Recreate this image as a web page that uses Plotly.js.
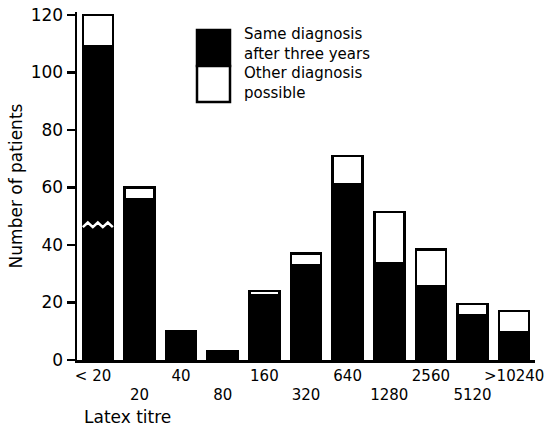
<!DOCTYPE html>
<html>
<head>
<meta charset="utf-8">
<script src="https://cdn.plot.ly/plotly-3.0.1.min.js"></script>
<style>html,body{margin:0;padding:0;background:#fff;}</style>
</head>
<body>
<div id="chart" style="width:553px;height:427px;"></div>
<script>
// Latex titre categories (tick labels)
const categories = ['< 20', '20', '40', '80', '160', '320', '640', '1280', '2560', '5120', '>10240'];
// Same diagnosis after three years (black part)
const sameDiagnosis = [109, 56, 10, 3, 22.5, 33, 61, 33.5, 25.5, 15.5, 9.5];
// Other diagnosis possible (white part, stacked on top)
const otherDiagnosis = [11, 4, 0, 0, 1.5, 4, 10, 18, 13, 4, 7.5];
// y value where the first bar is drawn broken
const breakValue = 47;
const yTicks = [0, 20, 40, 60, 80, 100, 120];
const legendLines = ['Same diagnosis', 'after three years', 'Other diagnosis', 'possible'];

const idx = categories.map((c, i) => i);
// alternate label rows (first label sits slightly left of its bar, as in the original)
const tickText = categories.map((c, i) => {
  if (i === 0) return c + '\u00a0\u00a0';
  return i % 2 === 0 ? c : '<br>' + c;
});

const FONT = 'DejaVu Sans, sans-serif';

const traces = [
  {
    type: 'bar', x: idx, y: sameDiagnosis, name: 'Same diagnosis after three years',
    marker: {color: '#000', line: {color: '#000', width: 2.5}}, showlegend: false,
    hoverinfo: 'skip'
  },
  {
    type: 'bar', x: idx, y: otherDiagnosis, name: 'Other diagnosis possible',
    marker: {color: '#fff', line: {color: '#000', width: 2.5}}, showlegend: false,
    hoverinfo: 'skip'
  }
];

// zigzag break mark on the first bar (in data coordinates)
const halfW = 0.36;
let zz = '';
const nPts = 7;
for (let k = 0; k < nPts; k++) {
  const xx = -halfW + (2 * halfW) * k / (nPts - 1);
  const yy = breakValue + (k % 2 === 0 ? -0.8 : 0.8);
  zz += (k === 0 ? 'M ' : ' L ') + xx + ',' + yy;
}

const layout = {
  width: 553, height: 427, autosize: false,
  margin: {l: 77, r: 18, t: 12, b: 67, pad: 0},
  paper_bgcolor: '#fff', plot_bgcolor: '#fff',
  barmode: 'stack', bargap: 0.28,
  font: {family: FONT, color: '#000', size: 16},
  xaxis: {
    type: 'linear', range: [-0.5, 10.5],
    tickvals: idx, ticktext: tickText, tickangle: 0,
    ticks: '', showgrid: false, zeroline: false,
    showline: true, linecolor: '#000', linewidth: 2.5,
    tickfont: {family: FONT, size: 15, color: '#000'}
  },
  yaxis: {
    range: [0, 121], tickvals: yTicks, ticktext: yTicks.map(String),
    ticks: 'outside', ticklen: 8, tickwidth: 2.5, tickcolor: '#000',
    showgrid: false, zeroline: false,
    showline: true, linecolor: '#000', linewidth: 2.5,
    tickfont: {family: FONT, size: 17, color: '#000'},
    title: {text: 'Number of patients', font: {family: FONT, size: 17, color: '#000'}, standoff: 4}
  },
  shapes: [
    {type: 'path', xref: 'x', yref: 'y', path: zz, line: {color: '#fff', width: 2.5}},
    // legend swatch
    {type: 'rect', xref: 'paper', yref: 'paper', x0: (197 - 77) / 458, x1: (230 - 77) / 458,
      y0: (360 - 66) / 348, y1: (360 - 30) / 348, fillcolor: '#000', line: {color: '#000', width: 2.5}},
    {type: 'rect', xref: 'paper', yref: 'paper', x0: (197 - 77) / 458, x1: (230 - 77) / 458,
      y0: (360 - 102) / 348, y1: (360 - 66) / 348, fillcolor: '#fff', line: {color: '#000', width: 2.5}}
  ],
  annotations: [
    {text: legendLines.join('<br>'), x: (242 - 77) / 458, y: (360 - 63) / 348, align: 'left',
      font: {family: FONT, size: 15, color: '#000'}},
    {text: 'Latex titre', x: (82 - 77) / 458, y: (360 - 417) / 348}
  ].map(a => Object.assign({
    xref: 'paper', yref: 'paper', xanchor: 'left', yanchor: 'middle', showarrow: false,
    font: {family: FONT, size: 17, color: '#000'}
  }, a))
};

Plotly.newPlot('chart', traces, layout, {displayModeBar: false, staticPlot: true});
</script>
</body>
</html>
